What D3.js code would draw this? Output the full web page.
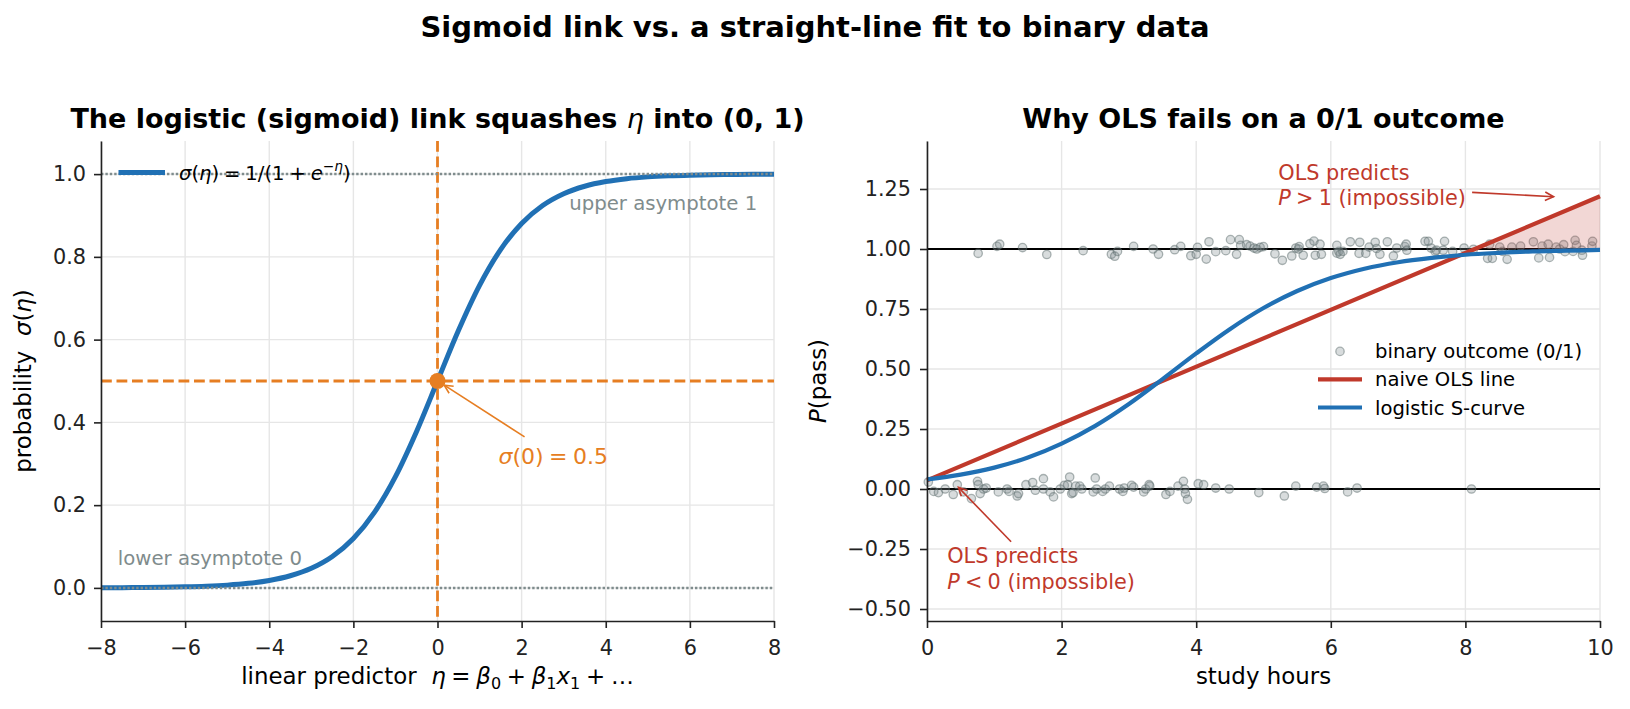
<!DOCTYPE html>
<html>
<head>
<meta charset="utf-8">
<script src="https://cdn.jsdelivr.net/npm/d3@7"></script>
<style>
  body { margin: 0; background: #fff; }
  svg text { font-family: "DejaVu Sans", sans-serif; white-space: pre; }
</style>
</head>
<body>
<script>
// ---- left panel: the sigmoid itself ----
var etaGrid = [-8, -7.5, -7, -6.5, -6, -5.5, -5, -4.5, -4, -3.5, -3, -2.5, -2, -1.5, -1, -0.5,
  0, 0.5, 1, 1.5, 2, 2.5, 3, 3.5, 4, 4.5, 5, 5.5, 6, 6.5, 7, 7.5, 8];
var sigmaVals = [0.0003, 0.0006, 0.0009, 0.0015, 0.0025, 0.0041, 0.0067, 0.0110, 0.0180, 0.0293,
  0.0474, 0.0759, 0.1192, 0.1824, 0.2689, 0.3775, 0.5, 0.6225, 0.7311, 0.8176, 0.8808, 0.9241,
  0.9526, 0.9707, 0.9820, 0.9890, 0.9933, 0.9959, 0.9975, 0.9985, 0.9991, 0.9994, 0.9997];
var etaTicks = [-8, -6, -4, -2, 0, 2, 4, 6, 8];
var sigmaTicks = [0, 0.2, 0.4, 0.6, 0.8, 1.0];

// ---- right panel: OLS vs logistic on 0/1 data ----
var hoursGrid = [0, 0.5, 1, 1.5, 2, 2.5, 3, 3.5, 4, 4.5, 5, 5.5, 6, 6.5, 7, 7.5, 8, 8.5, 9, 9.5, 10];
var logisticVals = [0.040, 0.060, 0.089, 0.131, 0.189, 0.263, 0.354, 0.458, 0.565, 0.666, 0.754,
  0.825, 0.879, 0.918, 0.945, 0.963, 0.976, 0.984, 0.990, 0.993, 0.996];
var olsHours = [0, 8.14, 10];
var olsVals = [0.036, 1.0, 1.22];
var hourTicks = [0, 2, 4, 6, 8, 10];
var pTicks = [-0.5, -0.25, 0, 0.25, 0.5, 0.75, 1.0, 1.25];

// observed outcomes (hours, jittered 0/1)
var passPoints = [[0.76,0.982],[1.04,1.011],[1.08,1.02],[1.42,1.006],[1.78,0.977],[2.32,0.993],
  [2.74,0.978],[2.79,0.97],[2.83,0.99],[3.07,1.011],[3.36,1.0],[3.44,0.978],[3.68,0.997],[3.77,1.011],
  [3.92,0.972],[4.0,0.978],[4.02,1.007],[4.15,0.958],[4.19,1.03],[4.29,0.989],[4.44,0.993],[4.51,1.039],
  [4.6,0.978],[4.64,1.039],[4.66,1.015],[4.75,1.018],[4.8,1.012],[4.86,1.004],[4.9,1.0],[4.95,1.007],
  [5.0,1.01],[5.17,0.98],[5.28,0.953],[5.42,0.971],[5.48,1.004],[5.52,1.0],[5.53,1.01],[5.59,0.974],
  [5.69,1.022],[5.75,1.033],[5.77,0.974],[5.84,1.02],[5.86,0.978],[6.09,1.015],[6.09,0.983],[6.12,0.99],
  [6.14,0.978],[6.18,0.99],[6.29,1.03],[6.42,0.982],[6.43,1.028],[6.52,0.982],[6.57,1.008],[6.66,1.028],
  [6.68,1.002],[6.73,0.978],[6.84,1.03],[6.93,0.971],[6.98,1.004],[7.1,1.01],[7.12,1.02],[7.13,0.995],
  [7.4,1.032],[7.45,1.032],[7.49,1.004],[7.55,0.99],[7.57,0.995],[7.67,0.995],[7.69,1.032],[7.81,0.99],
  [7.98,1.004],[8.12,0.999],[8.33,0.961],[8.36,1.02],[8.4,0.961],[8.51,1.008],[8.55,0.99],[8.62,0.957],
  [8.69,1.008],[8.82,1.012],[9.01,1.03],[9.09,0.963],[9.14,1.012],[9.23,1.02],[9.25,0.965],[9.35,1.008],
  [9.4,1.0],[9.46,1.018],[9.48,0.989],[9.6,0.99],[9.63,1.036],[9.65,1.015],[9.73,0.995],[9.74,0.974],
  [9.88,1.012],[9.89,1.032]];
var failPoints = [[0.02,0.029],[0.1,-0.01],[0.17,-0.015],[0.27,0.0],[0.39,-0.023],[0.45,0.018],
  [0.54,-0.012],[0.66,-0.04],[0.75,0.032],[0.76,0.018],[0.79,-0.019],[0.84,0.0],[0.88,0.004],
  [1.06,-0.012],[1.19,0.0],[1.22,-0.01],[1.34,-0.029],[1.36,-0.019],[1.47,0.018],[1.57,0.027],
  [1.61,-0.005],[1.73,0.043],[1.73,0.0],[1.83,-0.012],[1.88,-0.033],[1.98,0.0],[2.04,0.015],
  [2.09,0.018],[2.12,0.05],[2.15,-0.019],[2.17,-0.015],[2.21,0.012],[2.27,0.012],[2.3,0.0],
  [2.47,-0.012],[2.5,0.046],[2.52,0.0],[2.61,-0.01],[2.65,0.0],[2.71,0.012],[2.86,0.0],[2.91,-0.01],
  [2.93,0.004],[3.04,0.015],[3.07,0.008],[3.22,-0.012],[3.25,0.0],[3.3,0.018],[3.31,0.012],
  [3.55,-0.023],[3.61,-0.01],[3.73,0.012],[3.81,0.032],[3.83,0.0],[3.84,-0.019],[3.87,-0.043],
  [4.03,0.022],[4.11,0.018],[4.29,0.004],[4.49,0.0],[4.93,-0.015],[5.31,-0.029],[5.48,0.012],
  [5.79,0.008],[5.89,0.012],[5.91,0.002],[6.25,-0.012],[6.39,0.004],[8.09,0.0]];

var legendRight = ["binary outcome (0/1)", "naive OLS line", "logistic S-curve"];

var blue = "#2070b4", red = "#c0392b", orange = "#e67e22", grey = "#7f8c8d";
var sp = "\u2005"; // narrower math spacing around = and +

var width = 1630, height = 709;
var plotTop = 141, plotBottom = 621;

var svg = d3.select("body").append("svg")
    .attr("width", width)
    .attr("height", height);

var xEta = d3.scaleLinear().domain([-8, 8]).range([101, 774]);
var ySig = d3.scaleLinear().domain([-0.08, 1.08]).range([plotBottom, plotTop]);
var xHrs = d3.scaleLinear().domain([0, 10]).range([927, 1600]);
var yP = d3.scaleLinear().domain([-0.55, 1.45]).range([plotBottom, plotTop]);

// text with italic / sub / superscript runs (mathtext-ish)
function mathText(sel, parts, fs) {
  var shift = 0;
  parts.forEach(function(p) {
    var s = p.sub ? 0.22 * fs : p.sup ? -0.42 * fs : 0;
    var t = sel.append("tspan").text(p.t);
    if (s !== shift) { t.attr("dy", s - shift); shift = s; }
    if (p.i) t.attr("font-style", "italic");
    if (p.sub || p.sup) t.attr("font-size", 0.7 * fs);
    if (p.w) t.attr("font-weight", p.w);
  });
  return sel;
}

function arrow(g, x1, y1, x2, y2, color) {
  g.append("line")
      .attr("x1", x1).attr("y1", y1).attr("x2", x2).attr("y2", y2)
      .attr("stroke", color).attr("stroke-width", 1.6);
  var a = Math.atan2(y2 - y1, x2 - x1), L = 8.5, Wd = 4.2;
  var bx = x2 - L * Math.cos(a), by = y2 - L * Math.sin(a);
  var px = -Math.sin(a) * Wd, py = Math.cos(a) * Wd;
  g.append("path")
      .attr("d", "M" + (bx + px) + "," + (by + py) + "L" + x2 + "," + y2 + "L" + (bx - px) + "," + (by - py))
      .attr("fill", "none").attr("stroke", color).attr("stroke-width", 1.6);
}

function grid(g, xs, ys, xt, yt) {
  g.selectAll(".gx").data(xt).enter().append("line")
      .attr("x1", function(d) { return xs(d); }).attr("x2", function(d) { return xs(d); })
      .attr("y1", plotTop).attr("y2", plotBottom)
      .attr("stroke", "#e6e6e6").attr("stroke-width", 1.4);
  g.selectAll(".gy").data(yt).enter().append("line")
      .attr("y1", function(d) { return ys(d); }).attr("y2", function(d) { return ys(d); })
      .attr("x1", xs.range()[0]).attr("x2", xs.range()[1])
      .attr("stroke", "#e6e6e6").attr("stroke-width", 1.4);
}

function axes(g, xs, ys, xt, yt, xfmt, yfmt, ypad) {
  var ax = g.append("g")
      .attr("transform", "translate(0," + plotBottom + ")")
      .call(d3.axisBottom(xs).tickValues(xt).tickFormat(xfmt).tickSize(7).tickSizeOuter(0).tickPadding(12));
  var ay = g.append("g")
      .attr("transform", "translate(" + xs.range()[0] + ",0)")
      .call(d3.axisLeft(ys).tickValues(yt).tickFormat(yfmt).tickSize(7).tickSizeOuter(0).tickPadding(ypad));
  [ax, ay].forEach(function(a) {
    a.select(".domain").attr("stroke", "#222").attr("stroke-width", 1.6);
    a.selectAll(".tick line").attr("stroke", "#222").attr("stroke-width", 1.6);
    a.selectAll(".tick text").attr("fill", "#222").style("font-size", "20.8px")
        .style("font-family", "'DejaVu Sans', sans-serif");
  });
}

// ---------------- suptitle ----------------
svg.append("text")
    .attr("x", 815).attr("y", 37)
    .attr("text-anchor", "middle")
    .style("font-size", "29px").style("font-weight", "bold")
    .text("Sigmoid link vs. a straight-line fit to binary data");

// ---------------- left panel ----------------
var gl = svg.append("g");
grid(gl, xEta, ySig, etaTicks, sigmaTicks);

// crosshair at the midpoint
gl.append("line")
    .attr("x1", xEta(0)).attr("x2", xEta(0)).attr("y1", plotTop).attr("y2", plotBottom)
    .attr("stroke", orange).attr("stroke-width", 2.8).attr("stroke-dasharray", "10.8,4.7");
gl.append("line")
    .attr("x1", xEta(-8)).attr("x2", xEta(8)).attr("y1", ySig(0.5)).attr("y2", ySig(0.5))
    .attr("stroke", orange).attr("stroke-width", 2.8).attr("stroke-dasharray", "10.8,4.7");

var sigLine = d3.line()
    .x(function(d, i) { return xEta(etaGrid[i]); })
    .y(function(d) { return ySig(d); })
    .curve(d3.curveMonotoneX);
gl.append("path")
    .attr("d", sigLine(sigmaVals))
    .attr("fill", "none").attr("stroke", blue).attr("stroke-width", 5);

// asymptotes
[0, 1].forEach(function(v) {
  gl.append("line")
      .attr("x1", xEta(-8)).attr("x2", xEta(8)).attr("y1", ySig(v)).attr("y2", ySig(v))
      .attr("stroke", grey).attr("stroke-width", 2.5).attr("stroke-dasharray", "2.4,2");
});

gl.append("circle")
    .attr("cx", xEta(0)).attr("cy", ySig(0.5)).attr("r", 8)
    .attr("fill", orange);

axes(gl, xEta, ySig, etaTicks, sigmaTicks, d3.format("d"), d3.format(".1f"), 8);

gl.append("text")
    .attr("x", xEta(7.6)).attr("y", ySig(0.93)).attr("dy", "0.36em")
    .attr("text-anchor", "end").attr("fill", grey).style("font-size", "19.7px")
    .text("upper asymptote 1");
gl.append("text")
    .attr("x", xEta(-7.6)).attr("y", ySig(0.072)).attr("dy", "0.36em")
    .attr("fill", grey).style("font-size", "19.7px")
    .text("lower asymptote 0");

mathText(gl.append("text")
    .attr("x", xEta(1.45)).attr("y", ySig(0.30))
    .attr("fill", orange).style("font-size", "22px"),
  [{t: "σ", i: 1}, {t: "(0)" + sp + "=" + sp + "0.5"}], 22);
arrow(gl, xEta(2.07), ySig(0.365), xEta(0.16), ySig(0.49), orange);

// legend
gl.append("line")
    .attr("x1", 118.5).attr("x2", 165).attr("y1", 172.5).attr("y2", 172.5)
    .attr("stroke", blue).attr("stroke-width", 5);
mathText(gl.append("text")
    .attr("x", 179).attr("y", 172.5).attr("dy", "0.36em").style("font-size", "19.6px"),
  [{t: "σ", i: 1}, {t: "("}, {t: "η", i: 1}, {t: ")" + sp + "=" + sp + "1/(1" + sp + "+" + sp}, {t: "e", i: 1},
   {t: "−", sup: 1}, {t: "η", i: 1, sup: 1}, {t: ")"}], 19.6);

mathText(gl.append("text")
    .attr("x", 437.5).attr("y", 128).attr("text-anchor", "middle")
    .style("font-size", "27px").style("font-weight", "bold"),
  [{t: "The logistic (sigmoid) link squashes "}, {t: "η", i: 1, w: "normal"}, {t: " into (0, 1)"}], 27);

mathText(gl.append("text")
    .attr("x", 437.5).attr("y", 684).attr("text-anchor", "middle").style("font-size", "22.9px"),
  [{t: "linear predictor  "}, {t: "η", i: 1}, {t: sp + "=" + sp}, {t: "β", i: 1}, {t: "0", sub: 1},
   {t: sp + "+" + sp}, {t: "β", i: 1}, {t: "1", sub: 1}, {t: "x", i: 1}, {t: "1", sub: 1}, {t: sp + "+" + sp + "…"}], 22.9);

mathText(gl.append("text")
    .attr("transform", "translate(31," + (plotTop + plotBottom) / 2 + ") rotate(-90)")
    .attr("text-anchor", "middle").style("font-size", "22.9px"),
  [{t: "probability  "}, {t: "σ", i: 1}, {t: "("}, {t: "η", i: 1}, {t: ")"}], 22.9);

// ---------------- right panel ----------------
var gr = svg.append("g");
grid(gr, xHrs, yP, hourTicks, pTicks);

[0, 1].forEach(function(v) {
  gr.append("line")
      .attr("x1", xHrs(0)).attr("x2", xHrs(10)).attr("y1", yP(v)).attr("y2", yP(v))
      .attr("stroke", "#000").attr("stroke-width", 2.1);
});

gr.selectAll(".pt").data(passPoints.concat(failPoints)).enter().append("circle")
    .attr("cx", function(d) { return xHrs(d[0]); })
    .attr("cy", function(d) { return yP(d[1]); })
    .attr("r", 4.2)
    .attr("fill", grey).attr("fill-opacity", 0.3)
    .attr("stroke", "#5d6d6e").attr("stroke-opacity", 0.5).attr("stroke-width", 1.3);

// region where the straight line leaves [0, 1]
var overIdx = olsVals.map(function(v, i) { return i; }).filter(function(i) { return olsVals[i] >= 1; });
var overArea = d3.area()
    .x(function(i) { return xHrs(olsHours[i]); })
    .y0(yP(1))
    .y1(function(i) { return yP(olsVals[i]); });
gr.append("path")
    .attr("d", overArea(overIdx))
    .attr("fill", red).attr("fill-opacity", 0.2);

var olsLine = d3.line()
    .x(function(d, i) { return xHrs(olsHours[i]); })
    .y(function(d) { return yP(d); });
gr.append("path")
    .attr("d", olsLine(olsVals))
    .attr("fill", "none").attr("stroke", red).attr("stroke-width", 4.2);

var logLine = d3.line()
    .x(function(d, i) { return xHrs(hoursGrid[i]); })
    .y(function(d) { return yP(d); })
    .curve(d3.curveMonotoneX);
gr.append("path")
    .attr("d", logLine(logisticVals))
    .attr("fill", "none").attr("stroke", blue).attr("stroke-width", 4.2);

axes(gr, xHrs, yP, hourTicks, pTicks, d3.format("d"), d3.format(".2f"), 9);

// annotations
var up = gr.append("text").attr("fill", red).style("font-size", "20.8px");
up.append("tspan").attr("x", xHrs(5.22)).attr("y", yP(1.2875)).text("OLS predicts");
mathText(up.append("tspan").attr("x", xHrs(5.22)).attr("y", yP(1.185)),
  [{t: "P", i: 1}, {t: sp + ">" + sp + "1 (impossible)"}], 20.8);
arrow(gr, xHrs(8.1), yP(1.236), xHrs(9.31), yP(1.218), red);

var lo = gr.append("text").attr("fill", red).style("font-size", "20.8px");
lo.append("tspan").attr("x", xHrs(0.3)).attr("y", yP(-0.31)).text("OLS predicts");
mathText(lo.append("tspan").attr("x", xHrs(0.3)).attr("y", yP(-0.417)),
  [{t: "P", i: 1}, {t: sp + "<" + sp + "0 (impossible)"}], 20.8);
arrow(gr, xHrs(1.25), yP(-0.22), xHrs(0.467), yP(0.007), red);

// legend
var legY = [351.4, 379.4, 407.5];
gr.append("circle")
    .attr("cx", 1340).attr("cy", legY[0]).attr("r", 4.2)
    .attr("fill", grey).attr("fill-opacity", 0.3)
    .attr("stroke", "#5d6d6e").attr("stroke-opacity", 0.5).attr("stroke-width", 1.3);
[red, blue].forEach(function(c, i) {
  gr.append("line")
      .attr("x1", 1318).attr("x2", 1362).attr("y1", legY[i + 1]).attr("y2", legY[i + 1])
      .attr("stroke", c).attr("stroke-width", 4.2);
});
gr.selectAll(".leg").data(legendRight).enter().append("text")
    .attr("x", 1375).attr("y", function(d, i) { return legY[i]; }).attr("dy", "0.36em")
    .style("font-size", "19.6px")
    .text(function(d) { return d; });

gr.append("text")
    .attr("x", 1263.5).attr("y", 128).attr("text-anchor", "middle")
    .style("font-size", "27px").style("font-weight", "bold")
    .text("Why OLS fails on a 0/1 outcome");

gr.append("text")
    .attr("x", 1263.5).attr("y", 684).attr("text-anchor", "middle").style("font-size", "22.9px")
    .text("study hours");

mathText(gr.append("text")
    .attr("transform", "translate(826," + (plotTop + plotBottom) / 2 + ") rotate(-90)")
    .attr("text-anchor", "middle").style("font-size", "22.9px"),
  [{t: "P", i: 1}, {t: "(pass)"}], 22.9);
</script>
</body>
</html>
